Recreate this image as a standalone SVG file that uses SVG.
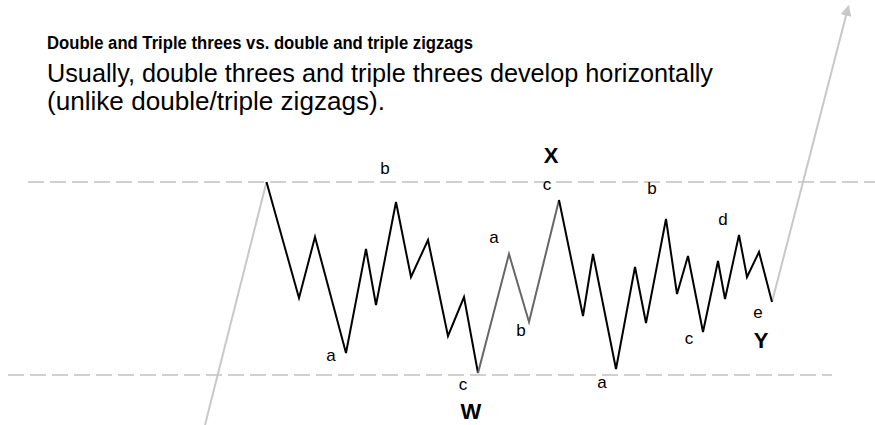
<svg xmlns="http://www.w3.org/2000/svg" width="875" height="425" viewBox="0 0 875 425">
<defs>
<style>
.title{font-family:"Liberation Sans",Arial,sans-serif;font-weight:bold;font-size:18px;fill:#000}
.sub{font-family:"Liberation Sans",Arial,sans-serif;font-size:25px;fill:#000}
.lbl{font-family:"Liberation Sans",Arial,sans-serif;font-size:17px;fill:#000;text-anchor:middle}
.big{font-family:"Liberation Sans",Arial,sans-serif;font-size:22px;font-weight:bold;fill:#000;text-anchor:middle}
.dash{stroke:#d0d0d0;stroke-width:2;stroke-dasharray:16 6;fill:none}
.trend{stroke:#c8c8c8;stroke-width:2;fill:none}
.wave{stroke:#000;stroke-width:2;fill:none;stroke-linejoin:miter}
.wave2{stroke:#666;stroke-width:2;fill:none}
</style>
<marker id="arr" viewBox="0 0 10 10" refX="9" refY="5" markerWidth="5.5" markerHeight="5.5" orient="auto" markerUnits="strokeWidth">
<path d="M0,0 L10,5 L0,10 z" fill="#c8c8c8"/>
</marker>
</defs>
<rect width="875" height="425" fill="#fff"/>
<g id="text">
<text class="title" x="47" y="49" textLength="426" lengthAdjust="spacingAndGlyphs">Double and Triple threes vs. double and triple zigzags</text>
<text class="sub" x="47" y="82" textLength="666" lengthAdjust="spacingAndGlyphs">Usually, double threes and triple threes develop horizontally</text>
<text class="sub" x="47" y="110" textLength="338" lengthAdjust="spacingAndGlyphs">(unlike double/triple zigzags).</text>
</g>
<g id="connectors">
<line class="dash" x1="28" y1="182" x2="875" y2="182"/>
<line class="dash" x1="8" y1="375" x2="832" y2="375"/>
<line class="trend" x1="205" y1="425" x2="266.5" y2="182"/>
<line class="trend" x1="772" y1="302" x2="848.5" y2="6" marker-end="url(#arr)"/>
<polyline class="wave" points="266.5,182 299,298 315,237 346,353 366,249 376,305 396,202 411,277 428,240 448,336 464,297 478,373"/>
<polyline class="wave2" points="478,373 509,254 529,322 559,200"/>
<polyline class="wave" points="559,200 583,316 593,254 616,369 635,267 646,323 666,219 677,294 688,256 703,332 718,261 725,299 739,235 747,277 759,252 772,302"/>
</g>
<g id="labels">
<text class="lbl" x="385" y="174">b</text>
<text class="lbl" x="331" y="361">a</text>
<text class="lbl" x="463" y="390">c</text>
<text class="big" x="471" y="419">W</text>
<text class="lbl" x="494" y="243">a</text>
<text class="lbl" x="521" y="336">b</text>
<text class="big" x="551" y="163">X</text>
<text class="lbl" x="547" y="190">c</text>
<text class="lbl" x="602" y="388">a</text>
<text class="lbl" x="652" y="194">b</text>
<text class="lbl" x="723" y="225">d</text>
<text class="lbl" x="689" y="344">c</text>
<text class="lbl" x="758" y="318">e</text>
<text class="big" x="761" y="348">Y</text>
</g>
</svg>
